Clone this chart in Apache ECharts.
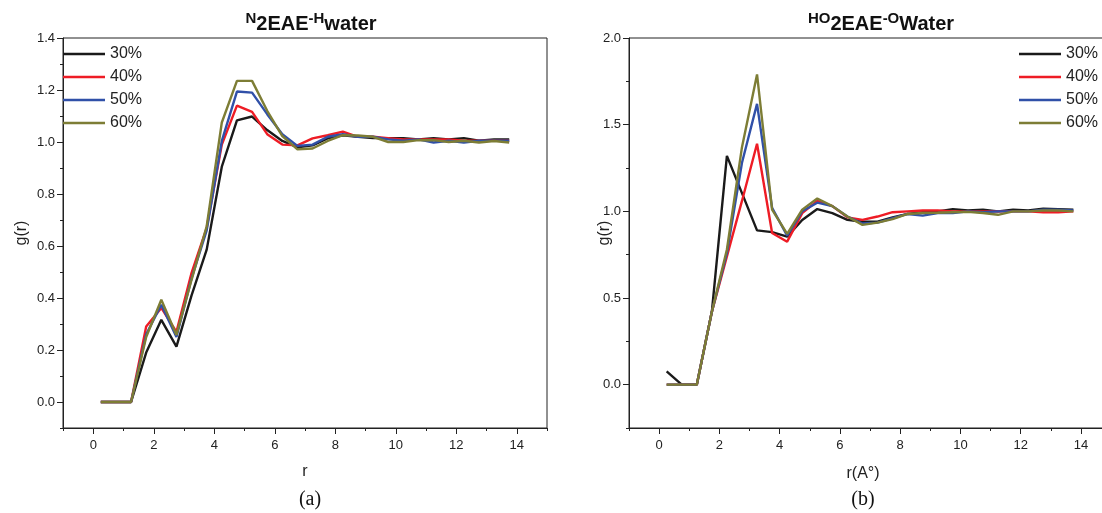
<!DOCTYPE html>
<html>
<head>
<meta charset="utf-8">
<script src="https://cdn.jsdelivr.net/npm/echarts@6/dist/echarts.min.js"></script>
<style>html,body{margin:0;padding:0;background:#fff}#c{width:1102px;height:513px}</style>
</head>
<body>
<div id="c"></div>
<script>
const r = [0.25,0.75,1.25,1.75,2.25,2.75,3.25,3.75,4.25,4.75,5.25,5.75,6.25,6.75,7.25,7.75,8.25,8.75,9.25,9.75,10.25,10.75,11.25,11.75,12.25,12.75,13.25,13.75];
const seriesNames = ['30%','40%','50%','60%'];
const colors = ['#1a1a1a','#ee1c25','#3050a8','#7d7d35'];

// (a) N2EAE-Hwater
const a30 = [0,0,0,0.19,0.316,0.213,0.41,0.586,0.905,1.083,1.098,1.046,1.004,0.98,0.987,1.014,1.026,1.02,1.015,1.015,1.015,1.01,1.015,1.01,1.015,1.005,1.01,1.01];
const a40 = [0,0,0,0.29,0.362,0.27,0.497,0.67,0.99,1.14,1.116,1.03,0.99,0.987,1.014,1.026,1.04,1.02,1.02,1.015,1.01,1.01,1.01,1.01,1.005,1.005,1.005,1.005];
const a50 = [0,0,0,0.26,0.374,0.25,0.475,0.66,1.004,1.194,1.19,1.107,1.03,0.985,0.99,1.02,1.03,1.02,1.02,1.01,1.005,1.01,0.998,1.005,0.998,1.005,1.005,1.005];
const a60 = [0,0,0,0.25,0.393,0.258,0.47,0.676,1.075,1.235,1.235,1.12,1.023,0.972,0.975,1.004,1.026,1.025,1.02,1.0,1.0,1.007,1.007,1.0,1.005,0.998,1.004,0.998];

// (b) HO2EAE-OWater
const b30 = [0.077,0,0,0.42,1.32,1.105,0.89,0.88,0.854,0.95,1.013,0.99,0.951,0.94,0.94,0.965,0.985,0.995,1.0,1.013,1.005,1.01,1.0,1.01,1.005,1.015,1.013,1.01];
const b40 = [0,0,0,0.42,0.74,1.06,1.39,0.875,0.825,0.99,1.06,1.03,0.965,0.951,0.97,0.995,1.0,1.005,1.005,1.0,1.0,1.0,1.0,1.0,1.0,0.995,0.995,1.0];
const b50 = [0,0,0,0.42,0.76,1.28,1.62,1.02,0.86,1.0,1.05,1.03,0.97,0.93,0.935,0.96,0.985,0.975,0.99,0.99,1.0,0.995,1.0,1.0,1.0,1.01,1.01,1.005];
const b60 = [0,0,0,0.42,0.78,1.37,1.79,1.01,0.87,1.01,1.074,1.03,0.97,0.922,0.935,0.955,0.985,0.99,0.992,0.995,0.997,0.99,0.98,1.0,1.0,1.005,1.005,1.0];

// tick labels
const xMajor = [0,2,4,6,8,10,12,14];
const yAMajor = [0,0.2,0.4,0.6,0.8,1.0,1.2,1.4];
const yBMajor = [0,0.5,1.0,1.5,2.0];

const FONT = 'Liberation Sans, Arial, sans-serif';
const AX = '#222';

function isMajor(list, v){ return list.some(m => Math.abs(m - v) < 1e-6); }

function xMain(gi, name){
  return {gridIndex: gi, type:'value', min:-1, max:15, interval:1, name: name, nameLocation:'middle', nameGap:36,
    nameMoveOverlap:false,
    nameTextStyle:{fontFamily:FONT, fontSize:16, color:'#222'},
    axisLine:{show:true, onZero:false, lineStyle:{color:AX, width:1}},
    axisTick:{show:true, inside:false, length:3, lineStyle:{color:AX}},
    axisLabel:{show:true, margin:11, fontFamily:FONT, fontSize:13, color:'#222', showMinLabel:true, showMaxLabel:true,
      formatter: v => isMajor(xMajor, v) ? String(v) : ''},
    splitLine:{show:false}};
}
function xMajorAx(gi){
  return {gridIndex: gi, type:'value', min:-1, max:15, position:'bottom',
    axisLine:{show:false, onZero:false}, axisLabel:{show:false}, splitLine:{show:false},
    axisTick:{show:true, length:6, customValues:xMajor, lineStyle:{color:AX}}};
}
function yMain(gi, min, max, step, major, gap){
  return {gridIndex: gi, type:'value', min:min, max:max, interval:step, name:'g(r)', nameLocation:'middle', nameGap:gap, nameRotate:90,
    nameMoveOverlap:false,
    nameTextStyle:{fontFamily:FONT, fontSize:16, color:'#222'},
    axisLine:{show:true, onZero:false, lineStyle:{color:AX, width:1}},
    axisTick:{show:true, inside:false, length:3, lineStyle:{color:AX}},
    axisLabel:{show:true, margin:8, fontFamily:FONT, fontSize:13, color:'#222',
      formatter: v => isMajor(major, v) ? v.toFixed(1) : ''},
    splitLine:{show:false}};
}
function yMajorAx(gi, min, max, major){
  return {gridIndex: gi, type:'value', min:min, max:max, position:'left',
    axisLine:{show:false, onZero:false}, axisLabel:{show:false}, splitLine:{show:false},
    axisTick:{show:true, length:6, customValues:major, lineStyle:{color:AX}}};
}

function mkSeries(arrs, xi, yi){
  return arrs.map((d,i)=>({
    name: seriesNames[i], type:'line', xAxisIndex:xi, yAxisIndex:yi,
    data: r.map((x,k)=>[x,d[k]]), showSymbol:false, symbol:'none',
    lineStyle:{color:colors[i], width:2.4}, itemStyle:{color:colors[i]},
    z: 2+i, animation:false
  }));
}

const titleRich = {
  a:{fontFamily:FONT, fontSize:15, fontWeight:'bold', color:'#111', padding:[0,0,8,0], verticalAlign:'bottom'},
  b:{fontFamily:FONT, fontSize:20, fontWeight:'bold', color:'#111', verticalAlign:'bottom'}
};
const legendBase = {data:seriesNames, orient:'vertical', top:45, padding:0, icon:'rect', itemWidth:42, itemHeight:2.5, itemGap:5,
  textStyle:{fontFamily:FONT, fontSize:16, color:'#222', lineHeight:18}, selectedMode:false};

const option = {
  backgroundColor:'#fff',
  animation:false,
  title:[
    {text:'{a|N}{b|2EAE}{a|-H}{b|water}', left:306, top:6, textAlign:'center', textStyle:{rich:titleRich}},
    {text:'{a|HO}{b|2EAE}{a|-O}{b|Water}', left:876, top:6, textAlign:'center', textStyle:{rich:titleRich}},
    {text:'r(A°)', left:858, top:461, textAlign:'center', textStyle:{fontFamily:FONT, fontSize:16, fontWeight:'normal', color:'#222'}},
    {text:'(a)', left:305, top:485, textAlign:'center', textStyle:{fontFamily:'Liberation Serif, Times New Roman, serif', fontSize:20, fontWeight:'normal', color:'#111'}},
    {text:'(b)', left:858, top:485, textAlign:'center', textStyle:{fontFamily:'Liberation Serif, Times New Roman, serif', fontSize:20, fontWeight:'normal', color:'#111'}}
  ],
  legend:[
    Object.assign({}, legendBase, {left:63}),
    Object.assign({}, legendBase, {left:1019})
  ],
  grid:[
    {left:63, top:38, width:484, height:390, show:true, borderColor:AX, borderWidth:1, backgroundColor:'transparent', containLabel:false, outerBoundsMode:'none'},
    {left:629, top:38, width:482, height:390, show:true, borderColor:AX, borderWidth:1, backgroundColor:'transparent', containLabel:false, outerBoundsMode:'none'}
  ],
  xAxis:[xMain(0,'r'), xMain(1,''), xMajorAx(0), xMajorAx(1)],
  yAxis:[yMain(0,-0.1,1.4,0.1,yAMajor,33), yMain(1,-0.25,2.0,0.25,yBMajor,16), yMajorAx(0,-0.1,1.4,yAMajor), yMajorAx(1,-0.25,2.0,yBMajor)],
  series:[...mkSeries([a30,a40,a50,a60],0,0), ...mkSeries([b30,b40,b50,b60],1,1)]
};

const chart = echarts.init(document.getElementById('c'), null, {renderer:'canvas'});
chart.setOption(option);
</script>
</body>
</html>
